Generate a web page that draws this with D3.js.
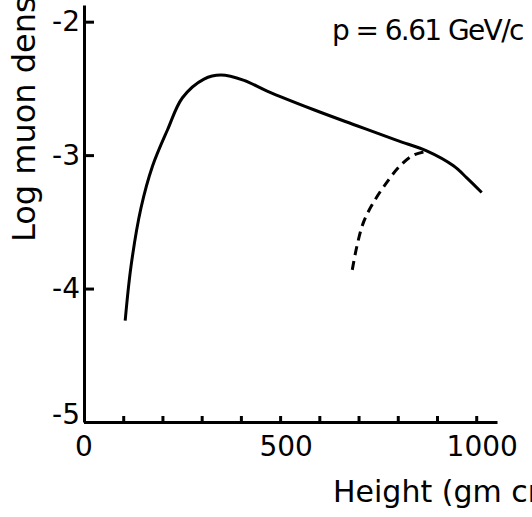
<!DOCTYPE html>
<html>
<head>
<meta charset="utf-8">
<script src="https://cdn.jsdelivr.net/npm/d3@7"></script>
<style>
  body { margin: 0; background: #fff; }
  svg { display: block; }
  text { font-family: "DejaVu Sans", sans-serif; fill: #000; }
</style>
</head>
<body>
<div id="chart"></div>
<script>
// Data
const solidHeight  = [105, 120, 145, 175, 213, 251, 306, 349, 408, 467, 586, 696, 798, 875, 942, 976, 1014];
const solidLogDens = [-4.24, -3.83, -3.40, -3.08, -2.81, -2.57, -2.43, -2.40, -2.44, -2.52, -2.66, -2.78, -2.89, -2.97, -3.08, -3.17, -3.28];

const dashHeight  = [684, 696, 713, 739, 773, 806, 840, 875];
const dashLogDens = [-3.86, -3.68, -3.50, -3.35, -3.20, -3.08, -3.00, -2.97];

const xTickValues = [100, 200, 300, 400, 500, 600, 700, 800, 900, 1000];
const xTickLabels = {0: "0", 500: "500", 1000: "1000"};
const yTickValues = [-2, -3, -4, -5];
const yTickLabels = ["-2", "-3", "-4", "-5"];

const width = 532, height = 517;

const svg = d3.select('#chart').append('svg')
    .attr('width', width)
    .attr('height', height);

const x = d3.scaleLinear().domain([0, 1053]).range([84, 497]);
const y = d3.scaleLinear().domain([-5, -1.875]).range([422, 5]);

// x axis: small ticks pointing up, labels only at 0 / 500 / 1000
const xAxis = svg.append('g')
    .attr('transform', `translate(0, ${y(-5)})`)
    .call(d3.axisBottom(x)
        .tickValues(xTickValues)
        .tickSizeInner(-6)
        .tickSizeOuter(0)
        .tickFormat(() => ''));
xAxis.select('.domain').attr('stroke-width', 3);
xAxis.selectAll('.tick line').attr('stroke-width', 3);

svg.append('g').selectAll('text')
    .data([0, 500, 1000])
    .join('text')
    .attr('x', d => x(d) + (d === 0 ? 0 : 6))
    .attr('y', 456)
    .attr('text-anchor', 'middle')
    .style('font-size', '28px')
    .text(d => xTickLabels[d]);

// y axis: ticks pointing right, labels on the left
const yAxis = svg.append('g')
    .attr('transform', `translate(${x(0)}, 0)`)
    .call(d3.axisLeft(y)
        .tickValues(yTickValues)
        .tickSizeInner(-10)
        .tickSizeOuter(0)
        .tickPadding(4)
        .tickFormat((d, i) => yTickLabels[i]));
yAxis.select('.domain').attr('stroke-width', 3);
yAxis.selectAll('.tick line').attr('stroke-width', 3);
yAxis.selectAll('.tick text')
    .style('font-size', '28px')
    .attr('fill', '#000');
yAxis.selectAll('.tick')
    .filter(d => d === -5)
    .select('text')
    .attr('dy', '0.05em');

// curves
const line = d3.line()
    .x(d => x(d[0]))
    .y(d => y(d[1]))
    .curve(d3.curveCatmullRom);

svg.append('path')
    .datum(d3.zip(solidHeight, solidLogDens))
    .attr('d', line)
    .attr('fill', 'none')
    .attr('stroke', '#000')
    .attr('stroke-width', 3);

svg.append('path')
    .datum(d3.zip(dashHeight, dashLogDens))
    .attr('d', line)
    .attr('fill', 'none')
    .attr('stroke', '#000')
    .attr('stroke-width', 3)
    .attr('stroke-dasharray', '9,6');

// labels
svg.append('text')
    .attr('x', 332)
    .attr('y', 40)
    .style('font-size', '28px')
    .style('letter-spacing', '-1.6px')
    .text('p = 6.61 GeV/c');

svg.append('text')
    .attr('transform', 'translate(35, 242) rotate(-90)')
    .style('font-size', '32px')
    .text('Log muon density');

svg.append('text')
    .attr('x', 333)
    .attr('y', 502)
    .style('font-size', '30px')
    .text('Height (gm cm⁻²)');
</script>
</body>
</html>
